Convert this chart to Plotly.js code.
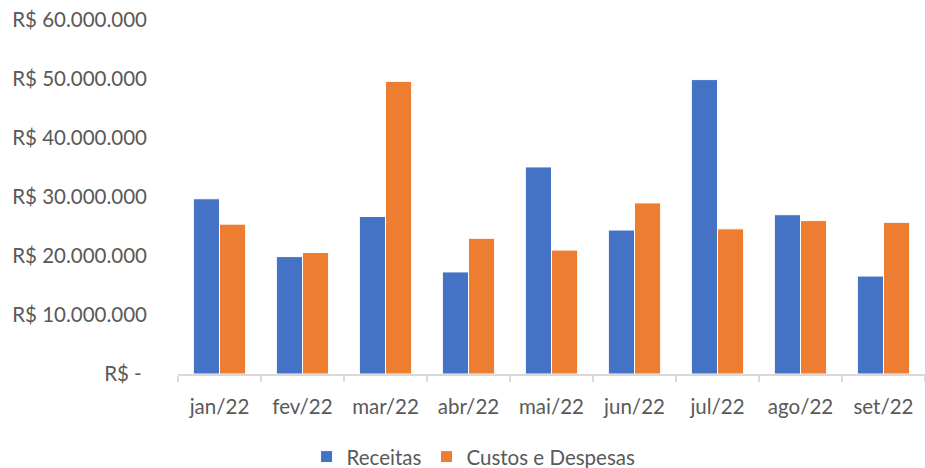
<!DOCTYPE html>
<html><head><meta charset="utf-8">
<script src="https://cdn.plot.ly/plotly-3.0.1.min.js"></script>
<style>html,body{margin:0;padding:0;background:#fff;}#chart{width:925px;height:468px;}</style>
</head><body><div id="chart"></div>
<script>
const months = ["jan/22","fev/22","mar/22","abr/22","mai/22","jun/22","jul/22","ago/22","set/22"];
const receitas = [29700000,19900000,26700000,17300000,35100000,24400000,49900000,27000000,16600000];
const custos = [25400000,20600000,49600000,23000000,21000000,29000000,24600000,26000000,25700000];
const yTickVals = [0,10000000,20000000,30000000,40000000,50000000,60000000];
const yTickText = ["R$ -\u00a0","R$ 10.000.000","R$ 20.000.000","R$ 30.000.000","R$ 40.000.000","R$ 50.000.000","R$ 60.000.000"];

const font = {family: "Lato, 'Noto Sans', sans-serif", size: 20.5, color: "#595959"};
const data = [
  {type:"bar", name:"Receitas", x:months, y:receitas, marker:{color:"#4472C4", line:{color:"#ffffff", width:1}}},
  {type:"bar", name:"Custos e Despesas", x:months, y:custos, marker:{color:"#ED7D31", line:{color:"#ffffff", width:1}}}
];
const layout = {
  width:925, height:468,
  margin:{l:178, r:0, t:20, b:94, autoexpand:false},
  paper_bgcolor:"#fff", plot_bgcolor:"#fff",
  font: font,
  barmode:"group", bargap:0.37, bargroupgap:0,
  showlegend:true,
  legend:{orientation:"h", xref:"container", yref:"container", x:0.512, xanchor:"center", y:0.024, yanchor:"middle",
          font:font, itemwidth:30, traceorder:"normal"},
  xaxis:{type:"category", showgrid:false, showline:true, linecolor:"#d9d9d9", linewidth:1.5,
         ticks:"outside", tickson:"boundaries", ticklen:6, tickcolor:"#d9d9d9", tickwidth:1.5,
         tickfont:font, zeroline:false, ticklabelstandoff:14},
  yaxis:{range:[0,60000000], tickvals:yTickVals, ticktext:yTickText, showgrid:false, showline:false,
         zeroline:false, ticks:"", tickfont:font, ticklabelstandoff:30}
};
Plotly.newPlot("chart", data, layout, {displayModeBar:false, staticPlot:true});
</script></body></html>
